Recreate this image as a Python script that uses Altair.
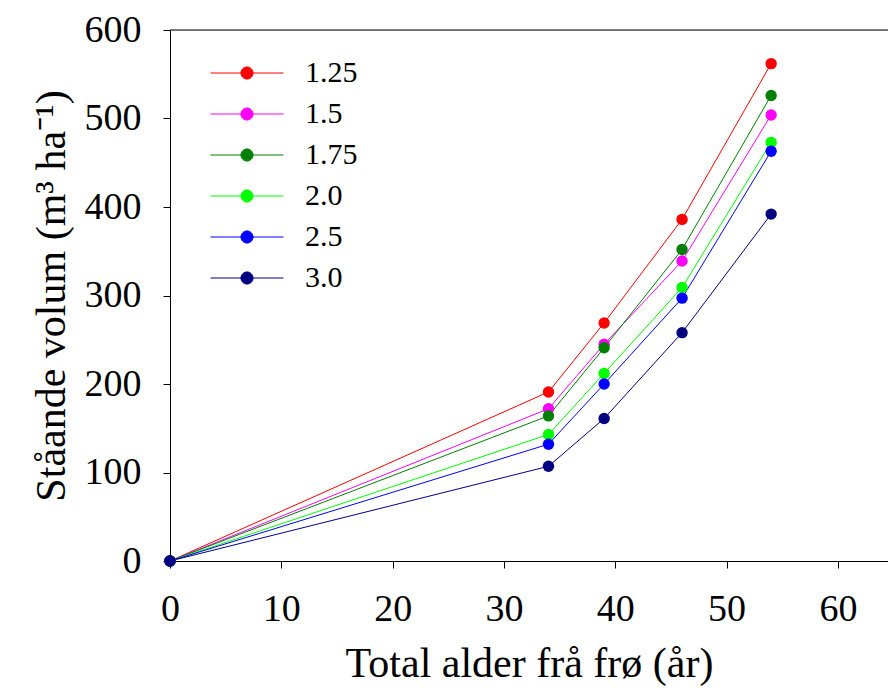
import altair as alt
import pandas as pd

ages = [0, 34, 39, 46, 54]
series_names = ["1.25", "1.5", "1.75", "2.0", "2.5", "3.0"]
v_125 = [0, 191, 269, 386, 562]
v_150 = [0, 172, 245, 339, 504]
v_175 = [0, 164, 241, 352, 526]
v_200 = [0, 143, 212, 309, 473]
v_250 = [0, 132, 200, 297, 463]
v_300 = [0, 107, 161, 258, 392]
colors = ["#FF0000", "#FF00FF", "#008000", "#00FF00", "#0000FF", "#000080"]

rows = []
for name, vals in zip(series_names, [v_125, v_150, v_175, v_200, v_250, v_300]):
    for a, v in zip(ages, vals):
        rows.append({"age": a, "vol": v, "series": name})
df = pd.DataFrame(rows)

FONT = "Liberation Serif"
xscale = alt.Scale(domain=[0, 64.5], nice=False, zero=True)
yscale = alt.Scale(domain=[0, 600], nice=False)
cscale = alt.Scale(domain=series_names, range=colors)

# legend symbol: horizontal line with a dot in the middle (unit = 11 px)
sym = ("M -3.32 0 L 3.32 0 "
       "M -0.55 0 A 0.55 0.55 0 1 1 0.55 0 A 0.55 0.55 0 1 1 -0.55 0 Z")
legend = alt.Legend(
    title=None, orient="none", legendX=62, legendY=28,
    symbolType=sym, symbolSize=484, symbolStrokeWidth=1,
    labelFont=FONT, labelFontSize=30, labelColor="black",
    labelOffset=43, rowPadding=11, padding=0,
)

x_enc = alt.X("age:Q", scale=xscale, axis=alt.Axis(
    values=[0, 10, 20, 30, 40, 50, 60], title="Total alder frå frø (år)",
    grid=False, domainColor="black", tickColor="black", tickSize=7,
    labelFont=FONT, labelFontSize=38, labelColor="black", labelPadding=22,
    titleFont=FONT, titleFontSize=42, titleFontWeight="normal", titleColor="black",
    titlePadding=15, labelFlush=False))
y_enc = alt.Y("vol:Q", scale=yscale, axis=alt.Axis(
    values=[0, 100, 200, 300, 400, 500, 600], title="Ståande volum (m³ ha⁻¹)",
    grid=False, domainColor="black", tickColor="black", tickSize=7,
    labelFont=FONT, labelFontSize=38, labelColor="black", labelPadding=22,
    titleFont=FONT, titleFontSize=42, titleFontWeight="normal", titleColor="black",
    titlePadding=11, labelFlush=False))

lines = alt.Chart(df).mark_line(strokeWidth=1, clip=False).encode(
    x=x_enc, y=y_enc,
    stroke=alt.Stroke("series:N", scale=cscale, legend=legend, sort=series_names),
    detail="series:N",
)
points = alt.Chart(df).mark_point(filled=True, size=130, opacity=1, clip=False).encode(
    x="age:Q", y="vol:Q",
    fill=alt.Fill("series:N", scale=cscale, legend=legend, sort=series_names),
)

top_df = pd.DataFrame({"x0": [0], "x1": [64.5], "y": [600]})
top = alt.Chart(top_df).mark_rule(color="black", strokeWidth=1, clip=False).encode(
    x="x0:Q", x2="x1:Q", y="y:Q")

chart = alt.layer(top, lines, points).properties(
    width=718, height=531,
    autosize=alt.AutoSizeParams(type="none"),
    padding={"left": 162, "top": 22, "right": 0, "bottom": 128},
).configure_view(stroke=None).configure(background="white")

chart.save("out.html", embed_options={"renderer": "svg", "actions": False})
